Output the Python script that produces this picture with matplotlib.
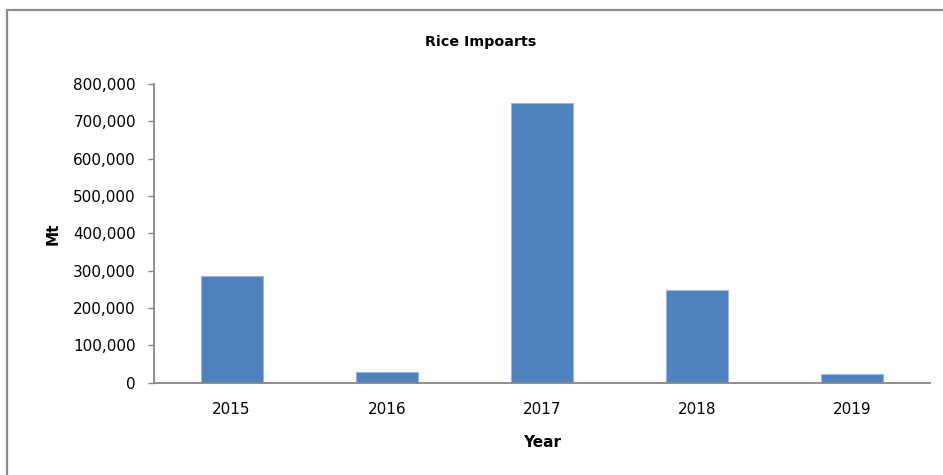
import matplotlib
matplotlib.use("Agg")
import matplotlib.pyplot as plt
from matplotlib.patches import Rectangle
from matplotlib.ticker import FuncFormatter

# Rice imports by year (metric tonnes)
years = ['2015', '2016', '2017', '2018', '2019']
imports_mt = [286000, 29000, 749000, 249000, 23000]

plt.rcParams['font.family'] = ['DejaVu Sans']

fig = plt.figure(figsize=(9.43, 4.75), dpi=100)
ax = fig.add_axes([154 / 943, 1 - 382.7 / 475, (930 - 154) / 943, (382.7 - 84) / 475])

ax.bar(range(len(years)), imports_mt, width=0.4, color='#4F81BD',
       edgecolor='#9DB7DA', linewidth=0.8)

ax.set_xlim(-0.5, len(years) - 0.5)
ax.set_ylim(0, 800000)
ax.set_yticks(range(0, 800001, 100000))
ax.yaxis.set_major_formatter(FuncFormatter(lambda v, p: f'{int(v):,}'))
ax.set_xticks(range(len(years)))
ax.set_xticklabels(years)

for side in ['top', 'right']:
    ax.spines[side].set_visible(False)
for side in ['left', 'bottom']:
    ax.spines[side].set_color('#868686')
    ax.spines[side].set_linewidth(1.3)

ax.tick_params(axis='y', length=4, width=1, color='#868686', labelsize=11, pad=9)
ax.tick_params(axis='x', length=0, labelsize=11, pad=14)

ax.set_xlabel('Year', fontsize=11, fontweight='bold', labelpad=13)
ax.set_ylabel('Mt', fontsize=11, fontweight='bold', labelpad=9)

fig.text(481 / 943, 1 - 42 / 475, 'Rice Impoarts', ha='center', va='center',
         fontsize=10.3, fontweight='bold')

# chart frame
fig.patches.append(Rectangle((7.5 / 943, -0.1), 1.2, 1.1 - 9.5 / 475,
                             transform=fig.transFigure, fill=False,
                             edgecolor='#8C8C8C', linewidth=1.6))

fig.savefig('out.png', dpi=100)
